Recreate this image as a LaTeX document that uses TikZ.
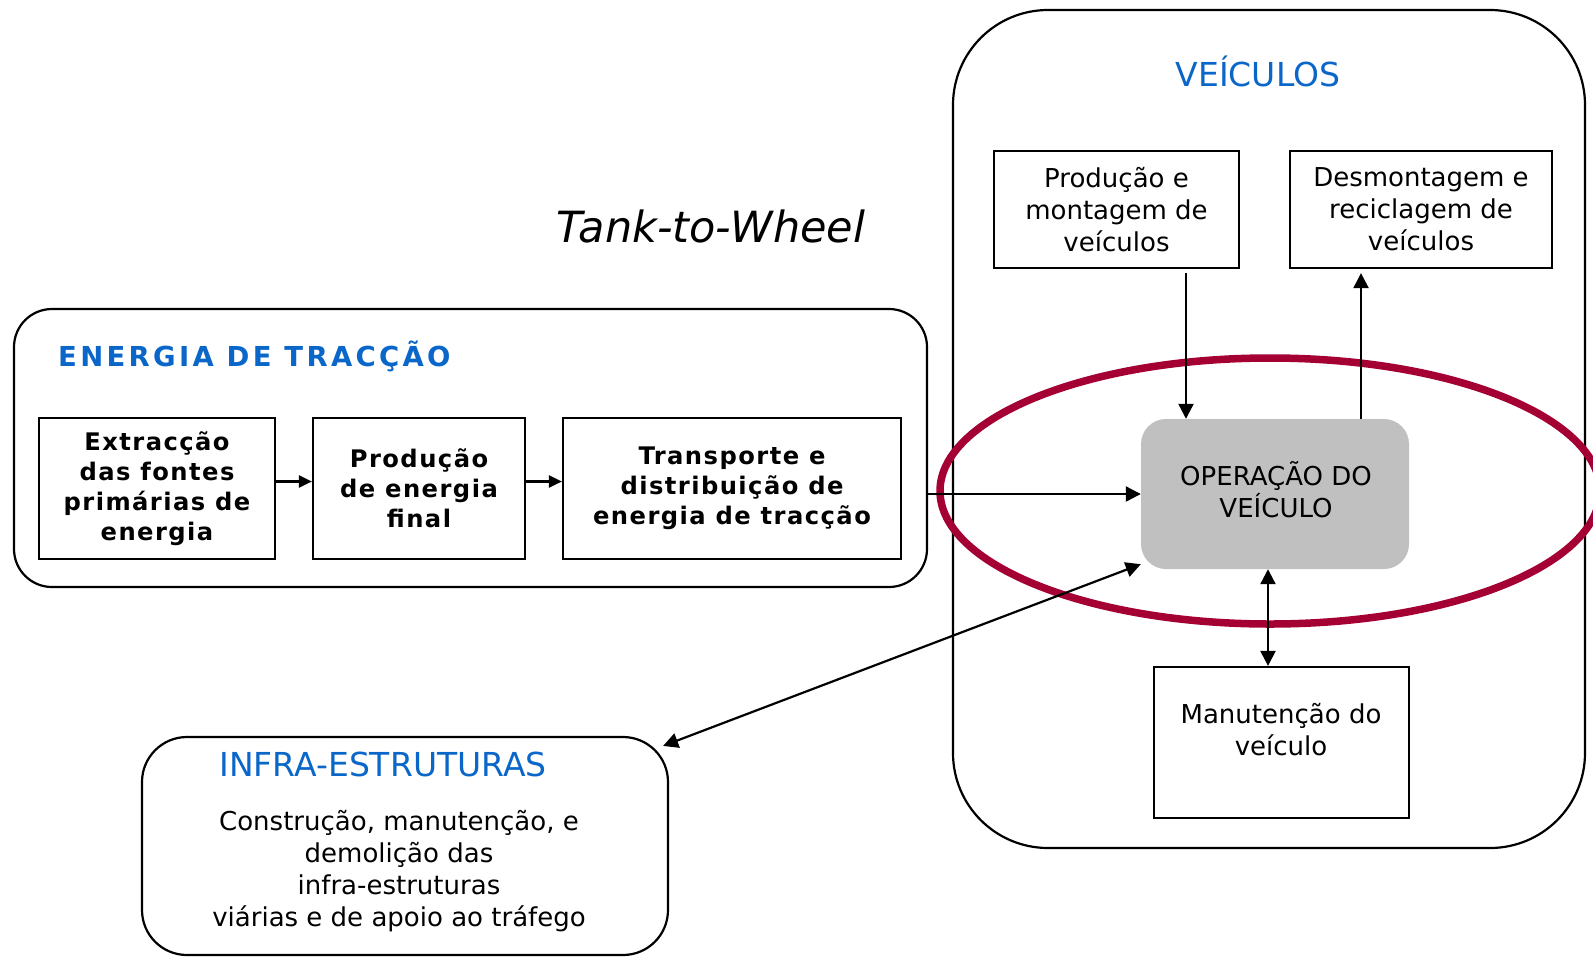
\documentclass[tikz,border=0pt]{standalone}
\usepackage{fontspec}
\setmainfont{DejaVu Sans}
\newfontfamily\spacedfont[LetterSpace=6]{DejaVu Sans}
\newfontfamily\headfont[LetterSpace=12]{DejaVu Sans}
\usetikzlibrary{shapes.geometric,arrows.meta}
\definecolor{hblue}{HTML}{0A66C8}
\definecolor{ellred}{HTML}{A50034}
\definecolor{opgray}{HTML}{C0C0C0}
\begin{document}
\begin{tikzpicture}[x=1pt,y=-1pt,
  box/.style={draw,line width=2.2pt,rectangle,inner sep=0pt,align=center,font=\fontsize{26}{32}\selectfont},
  bbox/.style={draw,line width=2.2pt,rectangle,inner sep=0pt,align=center,font=\spacedfont\bfseries\fontsize{24.2}{29.8}\selectfont},
  group/.style={draw,line width=2.2pt,rectangle,inner sep=0pt},
  heading/.style={text=hblue,inner sep=0pt,font=\fontsize{33}{39}\selectfont},
  bodytext/.style={inner sep=0pt,align=center,font=\fontsize{26}{32}\selectfont},
  arr/.style={line width=2.2pt,-{Triangle[length=15pt,width=15pt]}},
  sarr/.style={line width=2.2pt,-{Triangle[length=13pt,width=12pt]}},
  darr/.style={line width=2.2pt,{Triangle[length=15pt,width=15pt]}-{Triangle[length=15pt,width=15pt]}}
]
\useasboundingbox (0,0) rectangle (1593,959);

% group boxes
\node[group,rounded corners=95pt,minimum width=632pt,minimum height=838pt] (veic) at (1269,429) {};
\node[group,rounded corners=38pt,minimum width=913pt,minimum height=278pt] (energ) at (470.5,448) {};
\node[group,rounded corners=45pt,minimum width=526pt,minimum height=218pt] (infra) at (405,846) {};

% titles
\node[heading] (tveic) at (1258,71) {VEÍCULOS};
\node[heading,anchor=west,font=\headfont\bfseries\fontsize{27.5}{32}\selectfont] (tenerg) at (58,356) {ENERGIA DE TRACÇÃO};
\node[heading] (tinfra) at (383,764) {INFRA-ESTRUTURAS};
\node[inner sep=0pt,font=\itshape\fontsize{43}{50}\selectfont] (ttw) at (711,226) {Tank-to-Wheel};

% energy chain
\node[bbox,minimum width=236pt,minimum height=141pt] (b1) at (157,488.5) {Extracção\\das fontes\\primárias de\\energia};
\node[bbox,minimum width=212pt,minimum height=141pt] (b2) at (419,488.5) {Produção\\de energia\\final};
\node[bbox,minimum width=338pt,minimum height=141pt] (b3) at (732,488.5) {Transporte e\\distribuição de\\energia de tracção};

% vehicle boxes
\node[box,minimum width=245pt,minimum height=117pt] (prod) at (1116.5,209.5) {Produção e\\montagem de\\veículos};
\node[box,minimum width=262pt,minimum height=117pt] (desm) at (1421,209.5) {Desmontagem e\\reciclagem de\\veículos};
\node[rectangle,fill=opgray,rounded corners=25pt,minimum width=268pt,minimum height=150pt,inner sep=0pt] (oper) at (1275,494) {};
\node[bodytext] (toper) at (1276,490) {OPERAÇÃO DO\\VEÍCULO};
\node[group,minimum width=255pt,minimum height=151pt] (manut) at (1281.5,742.5) {};
\node[bodytext] (tmanut) at (1281,729.5) {Manutenção do\\veículo};

% infra text
\node[bodytext] (tinfrab) at (399,871) {Construção, manutenção, e\\demolição das\\infra-estruturas\\viárias e de apoio ao tráfego};

% highlight ellipse
\node[ellipse,draw=ellred,line width=7.5pt,minimum width=660pt,minimum height=266pt,inner sep=0pt] (ring) at (1270,491) {};

% connectors
\draw[sarr] ([yshift=7pt]b1.east) -- ([yshift=7pt]b2.west);
\draw[sarr] ([yshift=7pt]b2.east) -- ([yshift=7pt]b3.west);
\draw[arr] (energ.east |- oper.west) -- (oper.west);
\draw[arr] ([xshift=69.5pt,yshift=-4pt]prod.south) -- ([xshift=-89pt]oper.north);
\draw[arr] ([xshift=86pt]oper.north) -- ([xshift=86pt,yshift=-4pt]oper.north |- desm.south);
\draw[darr] ([xshift=-7pt]oper.south) -- ([xshift=-7pt]oper.south |- manut.north);
\draw[darr] ([shift={(-6pt,-10pt)}]infra.north east) -- ([yshift=5pt]oper.south west);
\end{tikzpicture}
\end{document}
